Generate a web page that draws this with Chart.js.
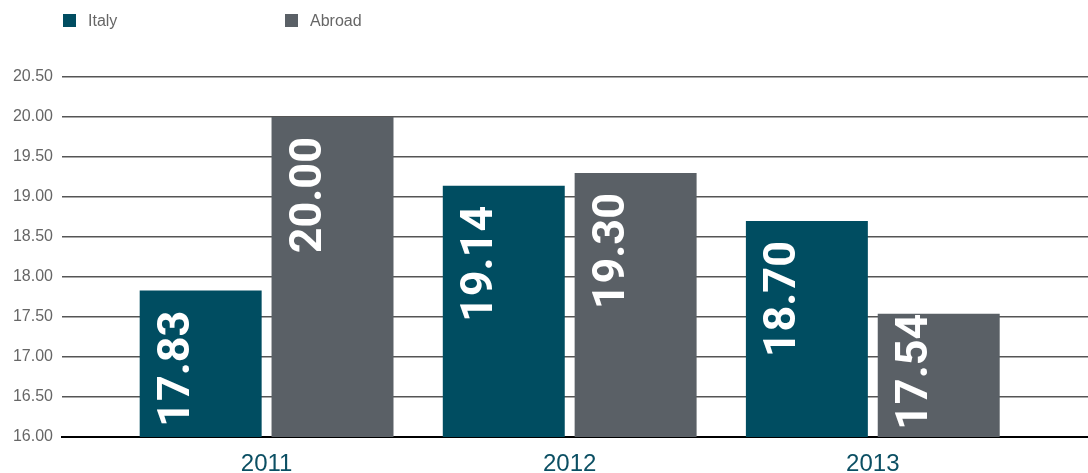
<!DOCTYPE html>
<html>
<head>
<meta charset="utf-8">
<script src="https://cdn.jsdelivr.net/npm/chart.js@4/dist/chart.umd.min.js"></script>
<style>
  html, body { margin: 0; padding: 0; background: #fff; }
  #wrap { position: relative; width: 1088px; height: 473px; }
  #legend { position: absolute; left: 63px; top: 11px; font-family: "Liberation Sans", Arial, sans-serif; font-size: 16px; color: #666; }
  .item { position: absolute; top: 0; white-space: nowrap; line-height: 20px; }
  .box { display: inline-block; width: 13px; height: 13px; vertical-align: -1px; margin-right: 12px; }
</style>
</head>
<body>
<div id="wrap">
  <div id="legend"></div>
  <canvas id="chart" width="1088" height="473"></canvas>
</div>
<script>
//Chart data
const years = [2011, 2012, 2013];
const seriesNames = ["Italy", "Abroad"];
const italyValues = [17.83, 19.14, 18.70];
const abroadValues = [20.00, 19.30, 17.54];
const yTickValues = [16, 16.5, 17, 17.5, 18, 18.5, 19, 19.5, 20, 20.5];

const italyColor = "#004d61";
const abroadColor = "#5a6066";

function buildLegend() {
  const legend = document.querySelector("#legend");
  const colors = [italyColor, abroadColor];
  let html = "";
  seriesNames.forEach((name, i) => {
    html += `<span class="item" style="left:${i * 222}px"><span class="box" style="background:${colors[i]}"></span>${name}</span>`;
  });
  legend.innerHTML = html;
}

// white rotated values inside bars
const barLabels = {
  id: "barLabels",
  afterDatasetsDraw(chart) {
    const ctx = chart.ctx;
    const bottom = chart.chartArea.bottom;
    ctx.save();
    ctx.font = "bold 45px Roboto, sans-serif";
    ctx.fillStyle = "#ffffff";
    chart.data.datasets.forEach((ds, di) => {
      chart.getDatasetMeta(di).data.forEach((bar, i) => {
        const text = ds.data[i].y.toFixed(2);
        const len = ctx.measureText(text).width;
        let top = bar.y + 20;
        if (top + len > bottom - 7) top = bottom - 7 - len;
        ctx.save();
        ctx.translate(bar.x - bar.width / 2 + 49, top);
        ctx.rotate(-Math.PI / 2);
        ctx.textAlign = "right";
        ctx.textBaseline = "alphabetic";
        ctx.fillText(text, 0, 0);
        ctx.restore();
      });
    });
    ctx.restore();
  },
};

function createChart() {
  const data = {
    datasets: [
      {
        label: seriesNames[0],
        data: years.map((y, i) => ({ x: y, y: italyValues[i] })),
        backgroundColor: italyColor,
      },
      {
        label: seriesNames[1],
        data: years.map((y, i) => ({ x: y, y: abroadValues[i] })),
        backgroundColor: abroadColor,
      },
    ],
  };

  const config = {
    type: "bar",
    data,
    plugins: [barLabels],
    options: {
      responsive: false,
      animation: false,
      categoryPercentage: 0.87,
      barPercentage: 0.925,
      layout: { padding: { top: 77, right: 0, left: 0, bottom: 0 } },
      plugins: { legend: { display: false }, tooltip: { enabled: false } },
      scales: {
        x: {
          type: "linear",
          offset: false,
          min: 2010.325,
          max: 2013.71,
          afterBuildTicks: (scale) => {
            scale.ticks = years.map((v) => ({ value: v }));
          },
          afterFit: (scale) => {
            scale.height = 36;
          },
          ticks: {
            callback: (v) => String(v),
            color: "#0b4f63",
            font: { family: "'Liberation Sans', Arial, sans-serif", size: 24 },
            padding: 5,
            maxRotation: 0,
          },
          grid: { display: false },
          border: { color: "#000", width: 2 },
        },
        y: {
          min: 16,
          max: 20.5,
          afterBuildTicks: (scale) => {
            scale.ticks = yTickValues.map((v) => ({ value: v }));
          },
          afterFit: (scale) => {
            scale.width = 62;
          },
          ticks: {
            callback: (v) => v.toFixed(2),
            color: "#666",
            font: { family: "'Liberation Sans', Arial, sans-serif", size: 16 },
            padding: 9,
          },
          grid: { color: "#555", lineWidth: 1.5, drawTicks: false },
          border: { display: false },
        },
      },
    },
  };

  new Chart(document.getElementById("chart"), config);
}

function main() {
  buildLegend();
  createChart();
}

main();
</script>
</body>
</html>
